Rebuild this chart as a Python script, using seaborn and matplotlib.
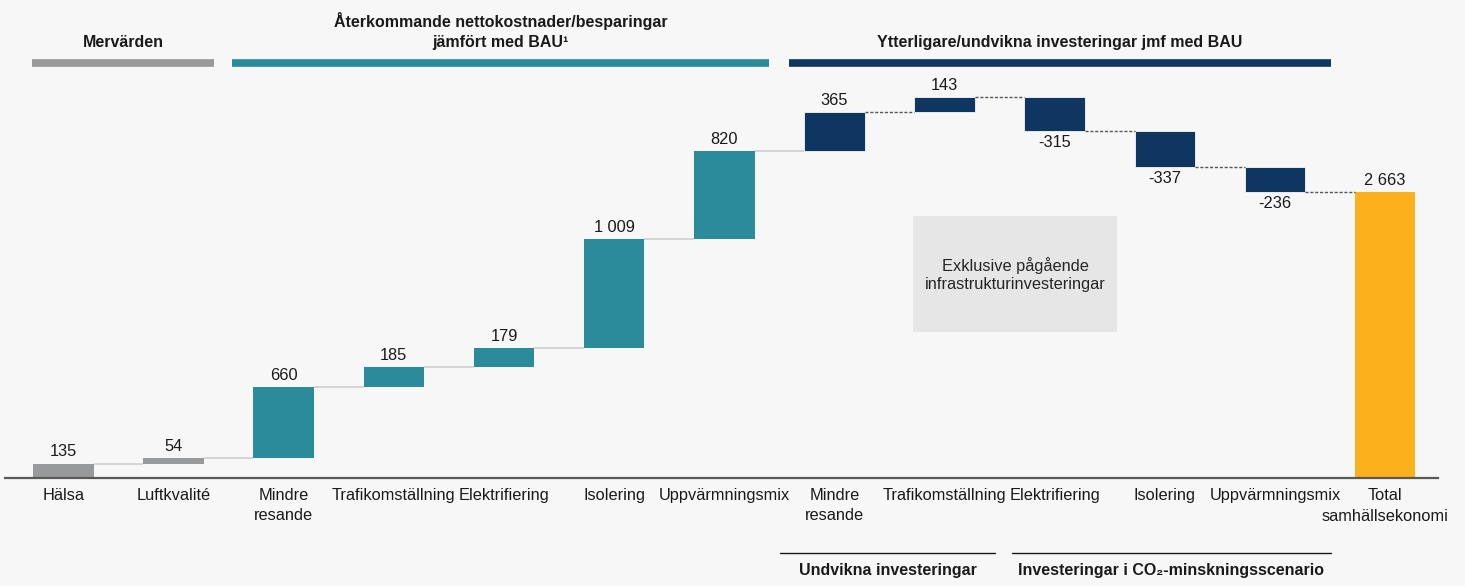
import matplotlib
matplotlib.use("Agg")
import matplotlib.pyplot as plt
from matplotlib.lines import Line2D
from matplotlib.patches import Rectangle
import numpy as np
import seaborn as sns

# Waterfall data (MSEK)
categories = ["Hälsa", "Luftkvalité", "Mindre\nresande", "Trafikomställning",
              "Elektrifiering", "Isolering", "Uppvärmningsmix", "Mindre\nresande",
              "Trafikomställning", "Elektrifiering", "Isolering", "Uppvärmningsmix",
              "Total\nsamhällsekonomi"]
values = [135, 54, 660, 185, 179, 1009, 820, 365, 143, -315, -337, -236]
total = 2663
groups = ["mer", "mer", "ater", "ater", "ater", "ater", "ater",
          "inv", "inv", "inv", "inv", "inv", "tot"]

group_colors = {"mer": "#98999b", "ater": "#2b8b9b", "inv": "#0f3661", "tot": "#fbb01c"}
BG = "#f7f7f7"
TXT = "#1a1a1a"
FS = 11.8
FS_BOLD = 11.5
W, H = 1465, 586

sns.set_theme(style="white")
plt.rcParams["font.family"] = ["Liberation Sans", "DejaVu Sans"]

fig = plt.figure(figsize=(W / 100, H / 100), dpi=100, facecolor=BG)
ax = fig.add_axes([5 / W, (H - 478) / H, 1433 / W, 478 / H], facecolor=BG)


def fx(px):
    return px / W


def fy(py):
    return 1 - py / H


# bar geometry from the cumulative sums
cum = np.cumsum(values)
bottoms = list(np.concatenate([[0], cum[:-1]])) + [0]
heights = list(values) + [total]
idx = list(range(len(categories)))
bar_w = 0.55

sns.barplot(x=idx, y=heights, bottom=bottoms, width=bar_w, color="#888888",
            ax=ax, errorbar=None, linewidth=0, saturation=1)
for patch, g in zip(ax.patches, groups):
    patch.set_facecolor(group_colors[g])
    patch.set_edgecolor(BG if g == "inv" else "none")
    patch.set_linewidth(0.6)

# connectors between consecutive bars
for i in range(len(values)):
    level = cum[i]
    x0, x1 = i + bar_w / 2, i + 1 - bar_w / 2
    if i < 7:
        ax.plot([x0, x1], [level, level], color="#d2d2d2", lw=1.3, solid_capstyle="butt")
    else:
        ax.plot([x0, x1], [level, level], color="#555555", lw=1.0, ls=(0, (2.2, 1.3)))


def fmt(v):
    s = f"{abs(v):,}".replace(",", " ")
    return ("-" if v < 0 else "") + s


# value labels
for i, v in enumerate(values):
    if v >= 0:
        ax.annotate(fmt(v), (i, cum[i]), xytext=(0, 3), textcoords="offset points",
                    ha="center", va="bottom", fontsize=FS, color=TXT)
    else:
        ax.annotate(fmt(v), (i, cum[i]), xytext=(0, -3), textcoords="offset points",
                    ha="center", va="top", fontsize=FS, color=TXT)
ax.annotate(fmt(total), (12, total), xytext=(0, 3), textcoords="offset points",
            ha="center", va="bottom", fontsize=FS, color=TXT)

ax.set_xlim(-0.53, 12.48)
ax.set_ylim(0, 478 / 0.1074)
ax.set_xticks(idx)

# category labels: the wide two-line total label is split so its second line
# sits under the neighbouring label without sharing a text box with it
PAD = 7
tick_texts = categories[:-1] + [categories[-1].split("\n")[0]]
ax.set_xticklabels(tick_texts, fontsize=FS, color=TXT, linespacing=1.42, va="top")
ax.tick_params(axis="x", length=0, pad=PAD)
ax.annotate(categories[-1].split("\n")[1], (12, 0), xytext=(0, -PAD - 15.2),
            textcoords="offset points", ha="center", va="top", fontsize=FS,
            color=TXT, annotation_clip=False)

ax.set_yticks([])
ax.set_xlabel("")
ax.set_ylabel("")
for s in ["top", "right", "left"]:
    ax.spines[s].set_visible(False)
ax.spines["bottom"].set_color("#595959")
ax.spines["bottom"].set_linewidth(1.6)

# header bands
headers = [
    ("Mervärden", 32, 214, group_colors["mer"]),
    ("Återkommande nettokostnader/besparingar\njämfört med BAU¹", 232, 769, group_colors["ater"]),
    ("Ytterligare/undvikna investeringar jmf med BAU", 789, 1331, group_colors["inv"]),
]
for text, x0, x1, c in headers:
    fig.add_artist(Line2D([fx(x0), fx(x1)], [fy(63), fy(63)], color=c, lw=5.5,
                          solid_capstyle="butt", transform=fig.transFigure))
    fig.text(fx((x0 + x1) / 2), fy(50), text, ha="center", va="bottom",
             fontsize=FS_BOLD, fontweight="bold", color=TXT, linespacing=1.42)

# footer brackets
footers = [
    ("Undvikna investeringar", 780, 995),
    ("Investeringar i CO₂-minskningsscenario", 1012, 1331),
]
for text, x0, x1 in footers:
    fig.add_artist(Line2D([fx(x0), fx(x1)], [fy(553), fy(553)], color=TXT, lw=1.0,
                          transform=fig.transFigure))
    fig.text(fx((x0 + x1) / 2), fy(571), text, ha="center", va="center",
             fontsize=FS_BOLD, fontweight="bold", color=TXT)

# note box
fig.add_artist(Rectangle((fx(913), fy(332)), fx(1117) - fx(913), fy(216) - fy(332),
                         facecolor="#e6e6e6", edgecolor="none", transform=fig.transFigure))
fig.text(fx(1015), fy(275), "Exklusive pågående\ninfrastrukturinvesteringar",
         ha="center", va="center", fontsize=FS, color="#262626", linespacing=1.25)

fig.savefig("out.png", dpi=100, facecolor=BG)
